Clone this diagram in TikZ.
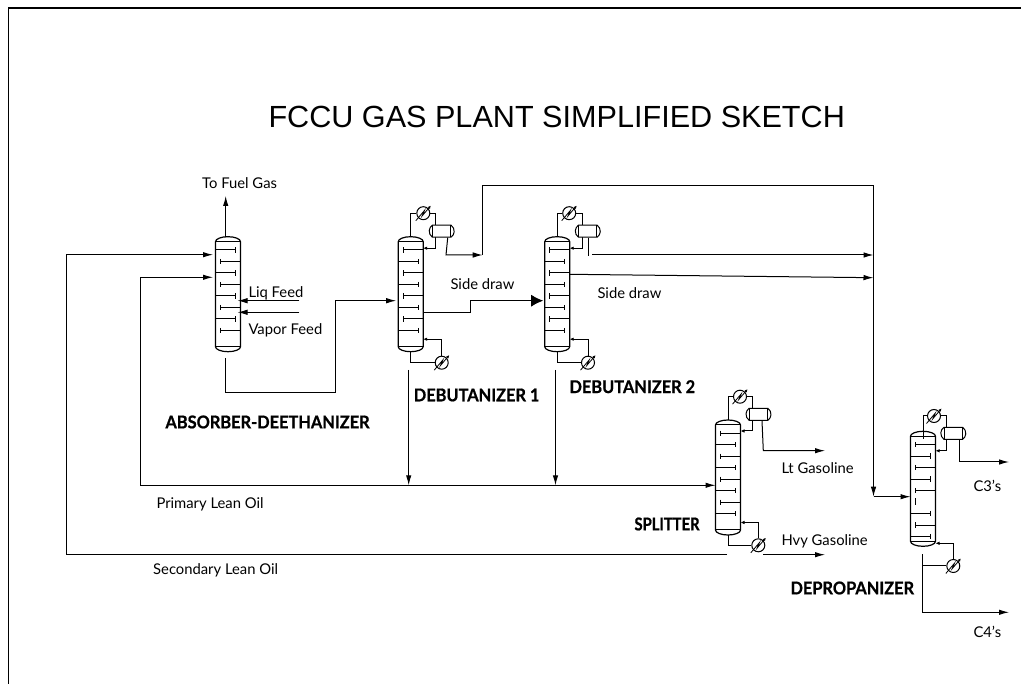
\documentclass[tikz,border=0pt]{standalone}
\usepackage{fontspec}
\setmainfont{Lato}
\newfontfamily\titlefont{Liberation Sans}
\newfontfamily\tagfont[FakeStretch=0.93,FakeBold=0.8]{Lato}
\newfontfamily\tagnarrow[FakeStretch=0.84,FakeBold=0.8]{Lato}
\usetikzlibrary{arrows.meta,shapes.misc}
\tikzset{>={Latex[length=10pt,width=5.5pt]}}
\tikzset{
  every path/.append style={line width=1pt},
  small/.style={-{Latex[length=4pt,width=3.5pt]}},
  txt/.style={inner sep=0pt, anchor=west, font=\fontsize{14.8}{17}\selectfont},
  tagtxt/.style={inner sep=0pt, anchor=west, font=\tagfont\bfseries\fontsize{17.6}{20}\selectfont},
  exch/.style={draw, circle, fill=white, minimum size=13pt, inner sep=0pt},
  drum/.style={draw, fill=white, rounded rectangle, rounded rectangle arc length=110,
    minimum width=25pt, minimum height=12pt, inner sep=0pt,
    path picture={
      \draw ([xshift=-9pt]path picture bounding box.north) -- ([xshift=-9pt]path picture bounding box.south);
      \draw ([xshift=9pt]path picture bounding box.north) -- ([xshift=9pt]path picture bounding box.south);}},
  pics/bolt/.style={code={
    \draw[line width=0.8pt,-{Latex[length=3pt,width=3pt]}] (-7.5,7.5) -- (1.2,-2.8) -- (-1.2,2.8) -- (7.5,-7.5);
  }},
  pics/tower/.style 2 args={code={
    \node[minimum width=25pt, minimum height=115pt, inner sep=0pt, outer sep=0pt, anchor=north] (-body) at (0,0) {};
    \draw[line width=1.2pt] (-12.5,5) arc[start angle=180, end angle=0, x radius=12.5pt, y radius=5pt]
      -- (12.5,110) arc[start angle=0, end angle=-180, x radius=12.5pt, y radius=5pt] -- cycle;
    \draw (-12.5,5) -- (12.5,5);
    \draw (-12.5,110) -- (12.5,110);
    \foreach \i in {#1} {
      \pgfmathsetmacro\ty{13.3+11.5*\i}
      \draw (-12.5,\ty) -- (7.5,\ty);
      \draw (7.5,\ty-2.7) -- (7.5,\ty+2.7);
    }
    \foreach \i in {#2} {
      \pgfmathsetmacro\ty{13.3+11.5*\i}
      \draw (12.5,\ty) -- (-7.5,\ty);
      \draw (-7.5,\ty-2.7) -- (-7.5,\ty+2.7);
    }
  }}
}

\begin{document}
\begin{tikzpicture}[x=1pt, y=-1pt]
      \useasboundingbox (0,0) rectangle (1021,684);
      % frame
      \coordinate (fr1) at (8.5,684);
      \coordinate (fr2) at (8.5,8);
      \coordinate (fr3) at (1021,8);
      \draw[line width=1.6pt] (fr1) -- (fr2) -- (fr3);
      \node[inner sep=0pt, anchor=west, font=\titlefont\fontsize{30.6}{33}\selectfont] (title) at (268,117) {FCCU GAS PLANT SIMPLIFIED SKETCH};

      % towers
      \pic (abs) at (228,236.7) {tower={0,2,4,6}{1,3,5,7}};
      \pic (deb1) at (410.7,236.7) {tower={1,3,5,7}{0,2,4,6}};
      \pic (deb2) at (557.2,236.7) {tower={1,3,5,7}{0,2,4,6}};
      \pic (spl) at (728,420) {tower={1,3,5,7}{0,2,4,6}};
      \pic (dep) at (923,431.3) {tower={1,3,6,8}{0,2,4,7}};
      \coordinate (deptick1) at (915.7,498.3);
      \coordinate (deptick2) at (915.7,505);
      \draw (deptick1) -- (deptick2);

      % exchangers
      \node[exch, above of=deb1-body, xshift=12.6pt, node distance=81pt] (deb1cnd) {};
      \node[exch, below of=deb1-body, xshift=31pt, node distance=68.5pt] (deb1reb) {};
      \node[exch, above of=deb2-body, xshift=12pt, node distance=81pt] (deb2cnd) {};
      \node[exch, below of=deb2-body, xshift=30.8pt, node distance=68.5pt] (deb2reb) {};
      \node[exch, above of=spl-body, xshift=12pt, node distance=80.8pt] (splcnd) {};
      \node[exch, below of=spl-body, xshift=30.3pt, node distance=67.8pt] (splreb) {};
      \node[exch, above of=dep-body, xshift=11pt, node distance=72.8pt] (depcnd) {};
      \node[exch, below of=dep-body, xshift=30.3pt, node distance=77.2pt] (depreb) {};
      \foreach \n in {deb1cnd,deb1reb,deb2cnd,deb2reb,splcnd,splreb,depcnd,depreb}
        \pic at (\n) {bolt};

      % overhead loops, the drums go on top of them
      \draw (deb1-body.north) |- (deb1cnd.west);
      \draw[small] (deb1cnd.east) -| ([xshift=12.5pt,yshift=46pt]deb1-body.east) -- ([yshift=46pt]deb1-body.east);
      \draw (deb2-body.north) |- (deb2cnd.west);
      \draw[small] (deb2cnd.east) -| ([xshift=12.5pt,yshift=46pt]deb2-body.east) -- ([yshift=46pt]deb2-body.east);
      \draw (spl-body.north) |- (splcnd.west);
      \draw[small] (splcnd.east) -| ([xshift=12pt,yshift=46.5pt]spl-body.east) -- ([yshift=46.5pt]spl-body.east);
      \draw ([yshift=50pt]dep-body.center) |- (depcnd.west);
      \draw[small] (depcnd.east) -| ([xshift=11.2pt,yshift=38pt]dep-body.east) -- ([yshift=38pt]dep-body.east);

      \node[drum, above of=deb1-body, xshift=31pt, node distance=63pt] (deb1drum) {};
      \node[drum, above of=deb2-body, xshift=30.6pt, node distance=63pt] (deb2drum) {};
      \node[drum, above of=spl-body, xshift=30.5pt, node distance=63.2pt] (spldrum) {};
      \node[drum, above of=dep-body, xshift=30.3pt, node distance=55.5pt] (depdrum) {};

      % reboiler loops
      \draw (deb1-body.south) |- (deb1reb.west);
      \draw[small] (deb1reb.north) |- ([yshift=-45pt]deb1-body.east);
      \draw (deb2-body.south) |- (deb2reb.west);
      \draw[small] (deb2reb.north) |- ([yshift=-45pt]deb2-body.east);
      \draw (spl-body.south) |- (splreb.west);
      \draw[small] (splreb.north) |- ([yshift=-45pt]spl-body.east);
      \draw[small] (depreb.north) |- ([yshift=-54.5pt]dep-body.east);

      % absorber
      \coordinate (absgas) at (225.7,196);
      \draw[->] (absgas |- abs-body.north) -- (absgas);
      \coordinate (liq) at (299.3,300.7);
      \coordinate (vap) at (299.3,312.3);
      \draw[->, shorten >=-3pt] (liq) -- (abs-body.east |- liq);
      \draw[->, shorten >=-3pt] (vap) -- (abs-body.east |- vap);
      \coordinate (abso1) at (225.7,358);
      \coordinate (abso2) at (225.7,392.7);
      \coordinate (abso3) at (335.7,392.7);
      \coordinate (abso4) at (335.7,300.7);
      \draw[->, shorten >=2pt] (abso1) -- (abso2) -- (abso3) -- (abso4) -- (deb1-body.west |- abso4);

      % lean oils
      \coordinate (lean1a) at (140,277.3);
      \coordinate (lean1b) at (140,485.3);
      \draw[->, shorten >=2.5pt] (lean1b) -- (lean1a) -- (abs-body.west |- lean1a);
      \draw[->] (lean1b) -- (spl-body.west |- lean1b);
      \coordinate (lean2a) at (66.5,254.7);
      \coordinate (lean2b) at (66.5,554.7);
      \coordinate (lean2c) at (727,554.7);
      \draw[->, shorten >=2.5pt] (lean2c) -- (lean2b) -- (lean2a) -- (abs-body.west |- lean2a);

      % debutanizer bottoms
      \coordinate (deb1btm) at (408.7,370);
      \coordinate (deb2btm) at (555.5,370);
      \draw[->] (deb1btm) -- (deb1btm |- lean1b);
      \draw[->] (deb2btm) -- (deb2btm |- lean1b);

      % side draws
      \coordinate (deb1sd1) at (423.2,312.7);
      \coordinate (deb1sd2) at (470,312.7);
      \coordinate (deb1sd3) at (470,300.7);
      \draw[-{Latex[length=12pt,width=12pt]}] (deb1sd1) -- (deb1sd2) -- (deb1sd3) -- ([xshift=-1.5pt]deb2-body.west |- deb1sd3);
      \coordinate (deb2sd1) at (569.7,274.3);
      \coordinate (deb2sd2) at (873.5,277.7);
      \draw[->] (deb2sd1) -- (deb2sd2);

      % overheads
      \coordinate (deb1ov) at (446,255);
      \coordinate (ovj) at (482.7,255);
      \coordinate (ovk) at (482.7,185.3);
      \coordinate (ovm) at (873.5,185.3);
      \coordinate (ovn) at (873.5,496.7);
      \draw[->] ([xshift=6pt]deb1drum.south) -- (deb1ov) -- (ovj);
      \draw (ovj) -- (ovk) -- (ovm);
      \draw[->] (ovm) -- (ovn);
      \draw[->] (ovn) -- (dep-body.west |- ovn);
      \coordinate (deb2ov) at (588,256);
      \coordinate (deb2c3a) at (592.3,255);
      \coordinate (deb2c3b) at (873.5,255);
      \draw (deb2ov |- deb2drum.south) -- (deb2ov);
      \draw[->] (deb2c3a) -- (deb2c3b);

      % products
      \coordinate (lt1) at (763.3,450.7);
      \coordinate (lt2) at (825,450.7);
      \draw[->] ([xshift=3.5pt]spldrum.south) -- (lt1) -- (lt2);
      \coordinate (hvy1) at (763,554.7);
      \coordinate (hvy2) at (825,554.7);
      \draw[->] (hvy1) -- (hvy2);
      \coordinate (c31) at (959,462);
      \coordinate (c32) at (1009,462);
      \draw[->] (c31 |- depdrum.south) -- (c31) -- (c32);
      \coordinate (c41) at (922.3,554.3);
      \coordinate (c42) at (922.3,612.3);
      \coordinate (c43) at (1009,612.3);
      \draw[->] (c41) -- (c42) -- (c43);
      \draw (c41 |- depreb) -- (depreb.west);

      % labels
      \node[txt] (lbgas) at (201.7,182.7) {To Fuel Gas};
      \node[txt] (lbliq) at (248,293) {Liq Feed};
      \node[txt] (lbvap) at (248,330) {Vapor Feed};
      \node[txt] (lbsd1) at (450,284) {Side draw};
      \node[txt] (lbsd2) at (597,292.7) {Side draw};
      \node[txt] (lbprim) at (156,504) {Primary Lean Oil};
      \node[txt] (lbsec) at (152.7,570.7) {Secondary Lean Oil};
      \node[txt] (lblt) at (781,468) {Lt Gasoline};
      \node[txt] (lbhvy) at (781,541) {Hvy Gasoline};
      \node[txt] (lbc3) at (973,485.7) {C3's};
      \node[txt] (lbc4) at (973,632) {C4's};
      \node[tagtxt] (tgabs) at (165,422) {ABSORBER-DEETHANIZER};
      \node[tagtxt] (tgdeb1) at (413.3,395) {DEBUTANIZER 1};
      \node[tagtxt] (tgdeb2) at (569,386.7) {DEBUTANIZER 2};
      \node[tagtxt, font=\tagnarrow\bfseries\fontsize{17.6}{20}\selectfont] (tgspl) at (634,524) {SPLITTER};
      \node[tagtxt] (tgdep) at (790,588) {DEPROPANIZER};
    \end{tikzpicture}
\end{document}
